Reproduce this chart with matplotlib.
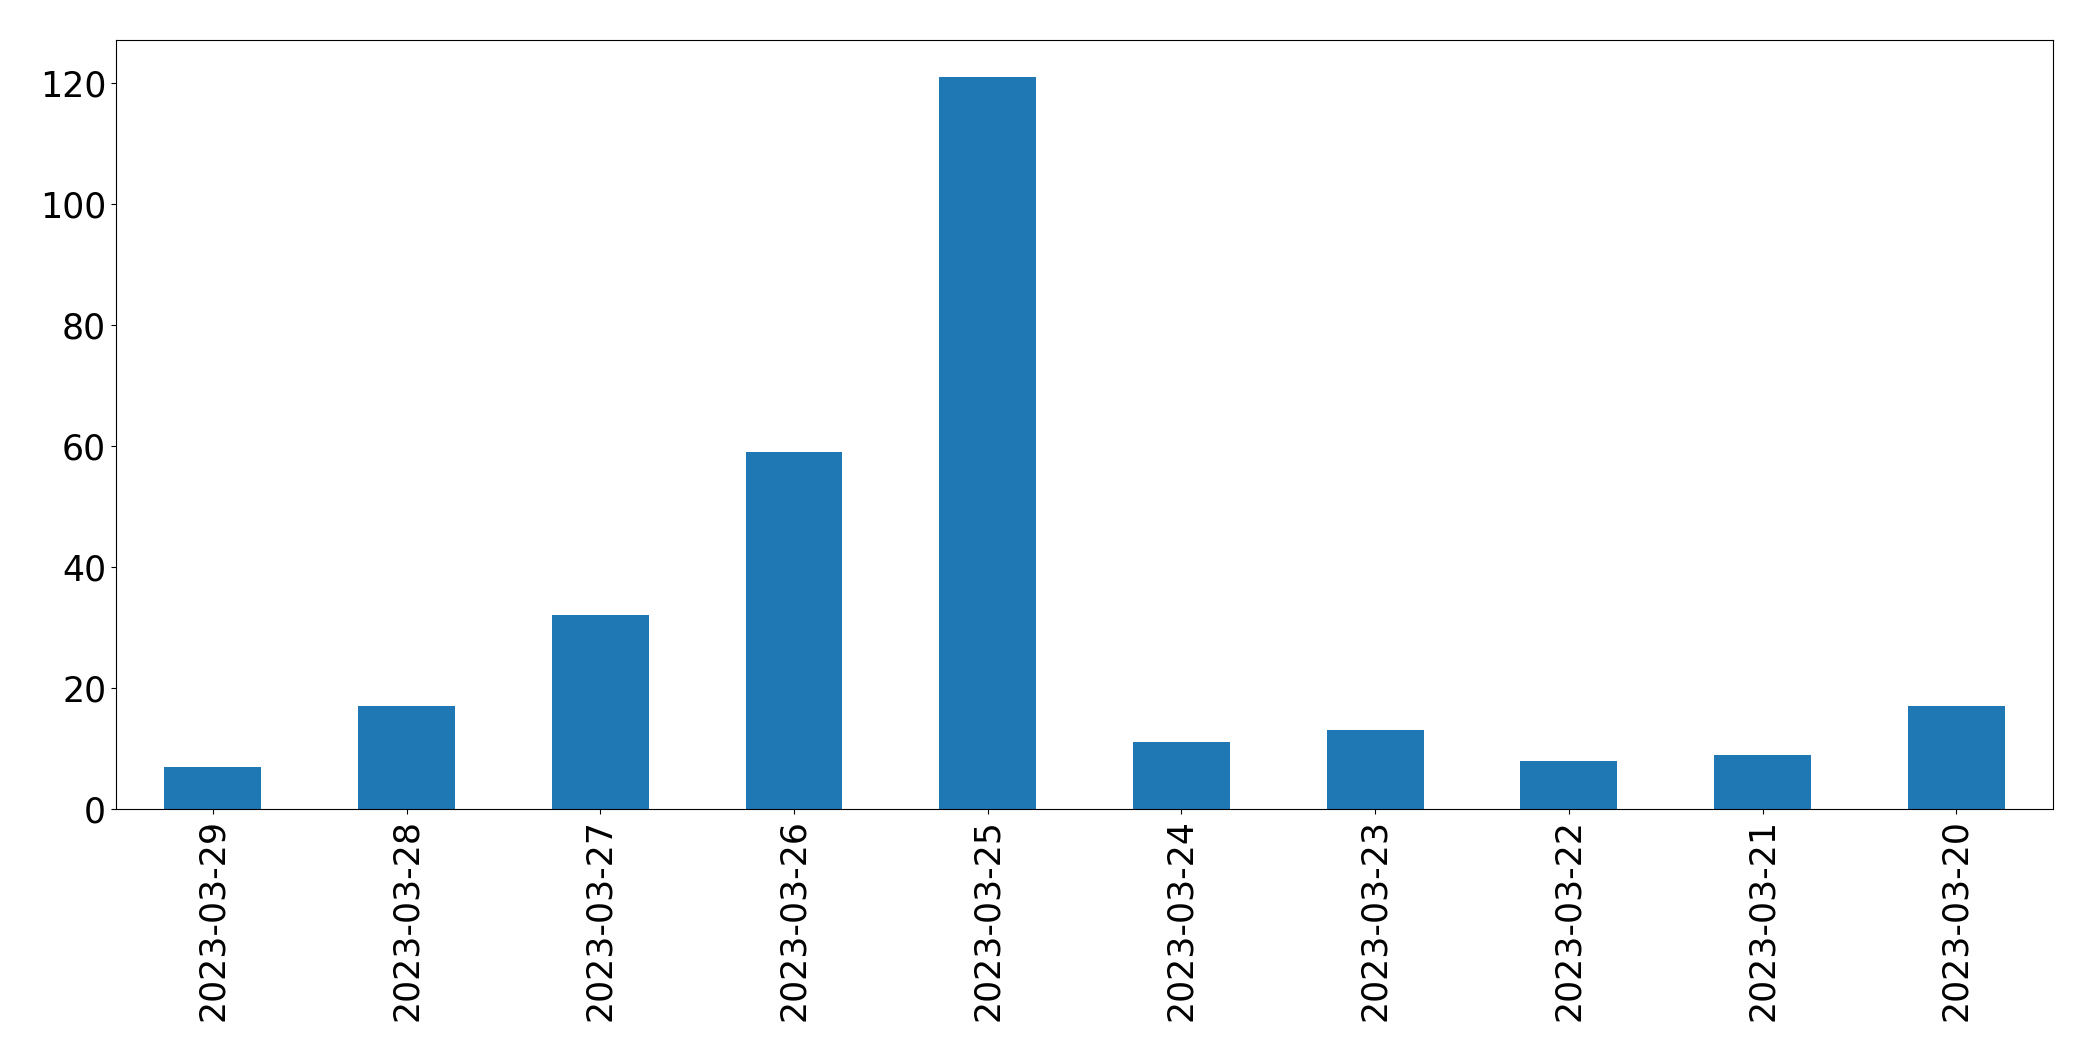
import matplotlib
matplotlib.use("Agg")
import matplotlib.pyplot as plt
import pandas as pd

dates = ["2023-03-29", "2023-03-28", "2023-03-27", "2023-03-26", "2023-03-25",
         "2023-03-24", "2023-03-23", "2023-03-22", "2023-03-21", "2023-03-20"]
counts = [7, 17, 32, 59, 121, 11, 13, 8, 9, 17]

s = pd.Series(counts, index=dates)
fig, ax = plt.subplots(figsize=(20.93, 10.61), dpi=100)
s.plot(kind="bar", ax=ax, color="#1f77b4")
ax.tick_params(axis="both", labelsize=25)
fig.subplots_adjust(left=0.0554, right=0.981, top=0.962, bottom=0.2375)
fig.savefig("out.png", dpi=100)
